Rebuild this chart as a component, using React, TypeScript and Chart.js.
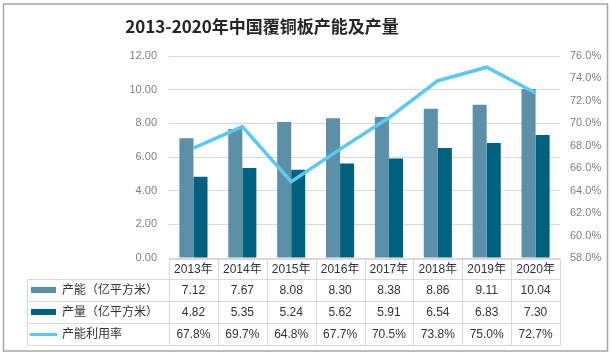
import React, { useEffect, useRef } from "react";
import { Chart, registerables } from "chart.js";

Chart.register(...registerables);

const categories = ["2013年", "2014年", "2015年", "2016年", "2017年", "2018年", "2019年", "2020年"];
const capacity = [7.12, 7.67, 8.08, 8.3, 8.38, 8.86, 9.11, 10.04];
const output = [4.82, 5.35, 5.24, 5.62, 5.91, 6.54, 6.83, 7.3];
const utilization = [67.8, 69.7, 64.8, 67.7, 70.5, 73.8, 75.0, 72.7];
const capacityLabels = ["7.12", "7.67", "8.08", "8.30", "8.38", "8.86", "9.11", "10.04"];
const outputLabels = ["4.82", "5.35", "5.24", "5.62", "5.91", "6.54", "6.83", "7.30"];
const utilizationLabels = ["67.8%", "69.7%", "64.8%", "67.7%", "70.5%", "73.8%", "75.0%", "72.7%"];
const seriesNames = ["产能（亿平方米）", "产量（亿平方米）", "产能利用率"];
const title = "2013-2020年中国覆铜板产能及产量";

const COLOR_CAP = "#5C8FA8";
const COLOR_OUT = "#00617F";
const COLOR_UTIL = "#5CC8F4";
const FONT = "'Liberation Sans', 'Noto Sans CJK SC', sans-serif";

const decorPlugin = {
  id: "decor",
  beforeDraw(chart: any) {
    const ctx = chart.ctx;
    ctx.save();
    ctx.fillStyle = "#ffffff";
    ctx.fillRect(0, 0, chart.width, chart.height);
    ctx.restore();
  },
  afterDraw(chart: any) {
    const ctx = chart.ctx;
    const ca = chart.chartArea;
    const xs = chart.scales.x;
    const n = categories.length;
    const colW = (ca.right - ca.left) / n;
    const tableLeft = 27;
    const headTop = Math.round(ca.bottom) + 1;
    const headBottom = headTop + 20;
    const rowH = 22;
    const rowsBottom = headBottom + rowH * 3;

    ctx.save();
    // title
    ctx.fillStyle = "#262626";
    ctx.font = `bold 17px 'Noto Sans CJK SC', sans-serif`;
    ctx.textAlign = "center";
    ctx.textBaseline = "middle";
    ctx.fillText(title, 262, 27);

    // table lines
    ctx.strokeStyle = "#D9D9D9";
    ctx.lineWidth = 1;
    ctx.beginPath();
    ctx.moveTo(ca.left, headTop + 0.5);
    ctx.lineTo(ca.right, headTop + 0.5);
    for (let r = 0; r <= 3; r++) {
      const y = headBottom + r * rowH + 0.5;
      ctx.moveTo(tableLeft, y);
      ctx.lineTo(ca.right, y);
    }
    ctx.moveTo(tableLeft + 0.5, headBottom);
    ctx.lineTo(tableLeft + 0.5, rowsBottom);
    for (let i = 0; i <= n; i++) {
      const x = Math.round(ca.left + i * colW) + 0.5;
      ctx.moveTo(x, headTop);
      ctx.lineTo(x, rowsBottom + 0.5);
    }
    ctx.stroke();

    // text
    ctx.fillStyle = "#333333";
    ctx.font = `12px ${FONT}`;
    ctx.textAlign = "center";
    ctx.textBaseline = "middle";
    const rowsData = [capacityLabels, outputLabels, utilizationLabels];
    for (let i = 0; i < n; i++) {
      const cx = xs.getPixelForValue(i);
      ctx.fillText(categories[i], cx, (headTop + headBottom) / 2 + 1);
      for (let r = 0; r < 3; r++) {
        const cy = headBottom + r * rowH + rowH / 2 + 1;
        ctx.fillText(rowsData[r][i], cx, cy);
      }
    }

    // legend column
    ctx.textAlign = "left";
    for (let r = 0; r < 3; r++) {
      const cy = headBottom + r * rowH + rowH / 2;
      if (r === 0 || r === 1) {
        ctx.fillStyle = r === 0 ? COLOR_CAP : COLOR_OUT;
        ctx.fillRect(31, cy - 3, 25, 6);
      } else {
        ctx.strokeStyle = COLOR_UTIL;
        ctx.lineWidth = 3;
        ctx.lineCap = "round";
        ctx.beginPath();
        ctx.moveTo(31, cy + 0.5);
        ctx.lineTo(56, cy + 0.5);
        ctx.stroke();
      }
      ctx.fillStyle = "#333333";
      ctx.fillText(seriesNames[r], 62, cy + 1);
    }

    // outer border
    ctx.strokeStyle = "#A6A6A6";
    ctx.lineWidth = 1.5;
    ctx.strokeRect(3.5, 4, 604, 347);
    ctx.restore();
  },
};

export default function App() {
  const ref = useRef<HTMLCanvasElement>(null);
  useEffect(() => {
    document.body.style.margin = "0";
    const canvas = ref.current!;
    const chart = new Chart(canvas, {
      type: "bar",
      data: {
        labels: categories,
        datasets: [
          {
            type: "line",
            label: seriesNames[2],
            data: utilization,
            yAxisID: "y1",
            borderColor: COLOR_UTIL,
            backgroundColor: COLOR_UTIL,
            borderWidth: 3.5,
            pointRadius: 0,
            tension: 0,
            order: 0,
          } as any,
          {
            type: "bar",
            label: seriesNames[0],
            data: capacity,
            yAxisID: "y",
            backgroundColor: COLOR_CAP,
            borderColor: "#52829A",
            borderWidth: 0,
            barPercentage: 1,
            categoryPercentage: 0.575,
            order: 1,
          },
          {
            type: "bar",
            label: seriesNames[1],
            data: output,
            yAxisID: "y",
            backgroundColor: COLOR_OUT,
            borderWidth: 0,
            barPercentage: 1,
            categoryPercentage: 0.575,
            order: 2,
          },
        ],
      },
      options: {
        responsive: false,
        animation: false,
        layout: { padding: { top: 56, bottom: 96, left: 0, right: 0 } },
        plugins: {
          legend: { display: false },
          title: { display: false },
          tooltip: { enabled: false },
        },
        scales: {
          x: { display: false, offset: true },
          y: {
            position: "left",
            min: 0,
            max: 12,
            ticks: {
              stepSize: 2,
              padding: 12,
              color: "#7F7F7F",
              font: { size: 11, family: FONT },
              callback: (v: any) => Number(v).toFixed(2),
            },
            grid: { color: "#D9D9D9", drawTicks: false },
            border: { display: false },
            afterFit: (s: any) => {
              s.width = 169;
            },
          },
          y1: {
            position: "right",
            min: 58,
            max: 76,
            ticks: {
              stepSize: 2,
              padding: 10,
              color: "#7F7F7F",
              font: { size: 11, family: FONT },
              callback: (v: any) => Number(v).toFixed(1) + "%",
            },
            grid: { display: false, drawTicks: false },
            border: { display: false },
            afterFit: (s: any) => {
              s.width = 52;
            },
          },
        },
      },
      plugins: [decorPlugin],
    });
    return () => chart.destroy();
  }, []);
  return (
    <div style={{ position: "relative", width: 612, height: 354 }}>
      <canvas ref={ref} width={612} height={354} />
    </div>
  );
}
